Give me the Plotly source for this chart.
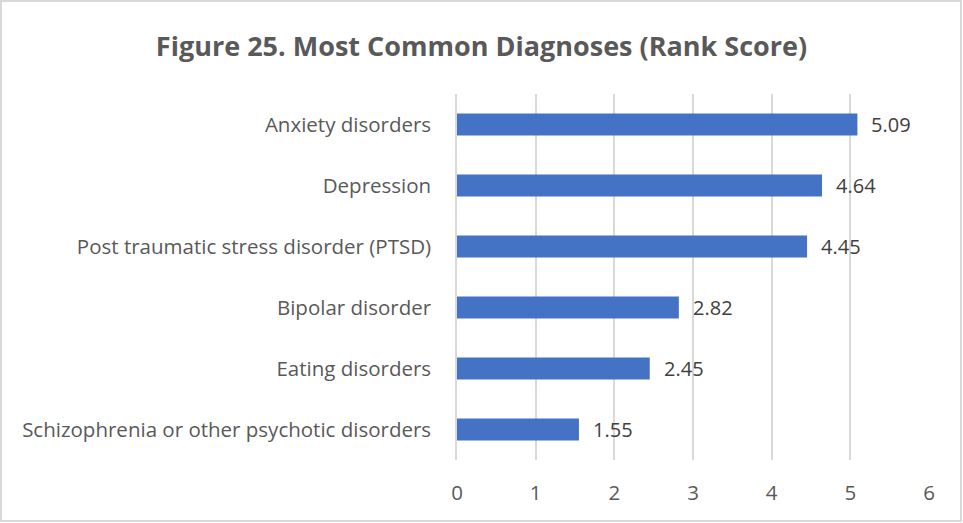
import plotly.graph_objects as go

categories = [
    "Anxiety disorders",
    "Depression",
    "Post traumatic stress disorder (PTSD)",
    "Bipolar disorder",
    "Eating disorders",
    "Schizophrenia or other psychotic disorders",
]
scores = [5.09, 4.64, 4.45, 2.82, 2.45, 1.55]
x_ticks = [0, 1, 2, 3, 4, 5, 6]

FONT = "Open Sans, sans-serif"
TEXT_GREY = "#595959"

fig = go.Figure(go.Bar(
    x=scores,
    y=categories,
    orientation="h",
    marker=dict(color="#4472C4", line=dict(width=0)),
    hoverinfo="x+y",
))

# value labels next to each bar
for cat, val in zip(categories, scores):
    fig.add_annotation(x=val, y=cat, text=f"{val:.2f}", showarrow=False,
                       xanchor="left", xshift=12,
                       font=dict(family=FONT, size=20, color="#404040"))

fig.update_layout(
    width=963, height=523,
    margin=dict(l=457, r=34, t=94, b=63, autoexpand=False),
    paper_bgcolor="white", plot_bgcolor="white",
    bargap=0.64,
    showlegend=False,
    title=dict(text="<b>Figure 25. Most Common Diagnoses (Rank Score)</b>",
               x=0.5, xanchor="center", y=1 - 47 / 523, yanchor="middle",
               font=dict(family=FONT, size=27, color=TEXT_GREY)),
    font=dict(family=FONT, size=20.5, color=TEXT_GREY),
)
# outer frame around the whole chart area
fig.add_shape(type="rect", xref="paper", yref="paper",
              x0=-456 / 472, x1=1 + 32 / 472, y0=-61 / 366, y1=1 + 93 / 366,
              line=dict(color="#d9d9d9", width=2), layer="below")

fig.update_xaxes(range=[0, 6], tickvals=x_ticks, showgrid=True,
                 gridcolor="#d9d9d9", gridwidth=1.5, zeroline=False,
                 showline=False, ticks="outside", ticklen=14,
                 tickcolor="rgba(0,0,0,0)", automargin=False)
fig.update_yaxes(autorange="reversed", showgrid=False, zeroline=False,
                 showline=True, linecolor="#d9d9d9", linewidth=1.5,
                 ticks="outside", ticklen=20, tickcolor="rgba(0,0,0,0)",
                 automargin=False)

# drop the default page margin so the figure sits at the window corner
fig.write_html("out.html", config={"displayModeBar": False},
               post_script="document.body.style.margin='0';")
